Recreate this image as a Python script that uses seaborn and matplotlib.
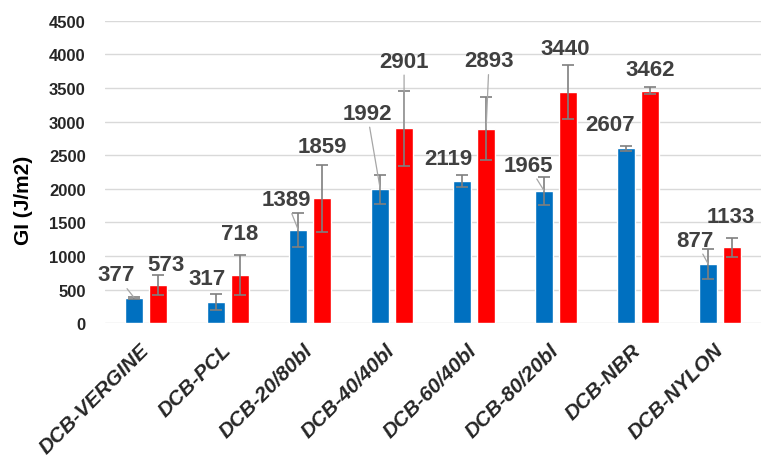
import numpy as np
import matplotlib
matplotlib.use("Agg")
import matplotlib.pyplot as plt
import seaborn as sns
import pandas as pd

# data
samples = ["DCB-VERGINE", "DCB-PCL", "DCB-20/80bl", "DCB-40/40bl",
           "DCB-60/40bl", "DCB-80/20bl", "DCB-NBR", "DCB-NYLON"]
gi_blue = [377, 317, 1389, 1992, 2119, 1965, 2607, 877]
gi_red = [573, 718, 1859, 2901, 2893, 3440, 3462, 1133]
err_blue = [15, 115, 250, 218, 94, 210, 37, 225]
err_red = [150, 300, 500, 556, 470, 405, 57, 140]
series = ["Serie 1", "Serie 2"]

# label placement (pixel offsets from bar top) and leader line flags
off_blue = [(-18, 23), (-9, 23), (-12, 30), (-13, 76), (-14, 22), (-16, 26), (-16, 24), (-13, 24)]
off_red = [(8, 20), (0, 41), (0, 52), (0, 67), (3, 68), (-3, 44), (0, 21), (-1, 31)]
lead_blue = [True, False, True, True, False, True, False, True]
lead_red = [False, False, False, True, True, False, False, False]

df = pd.DataFrame({
    "sample": samples * 2,
    "serie": [series[0]] * len(samples) + [series[1]] * len(samples),
    "GI": gi_blue + gi_red,
})

sns.set_style("white")
plt.rcParams['font.family'] = ['Liberation Sans', 'DejaVu Sans']

fig = plt.figure(figsize=(7.62, 4.56), dpi=100)
ax = fig.add_axes([0.138, 0.289, 0.861, 0.663])

sns.barplot(data=df, x="sample", y="GI", hue="serie", order=samples,
            palette=["#0070C0", "#FF0000"], width=0.58, gap=0.25,
            saturation=1, errorbar=None, legend=False, ax=ax)

ax.set_ylim(0, 4500)
ax.set_xlim(-0.5, len(samples) - 0.5)
ax.set_yticks(np.arange(0, 4501, 500))
ax.yaxis.grid(True, color="#d9d9d9", lw=1)
ax.set_axisbelow(True)
for s in ax.spines.values():
    s.set_visible(False)

errs = [err_blue, err_red]
offs = [off_blue, off_red]
leads = [lead_blue, lead_red]
bar_conts = list(ax.containers)
for k, cont in enumerate(bar_conts):
    xs = [p.get_x() + p.get_width() / 2 for p in cont.patches]
    hs = [p.get_height() for p in cont.patches]
    ax.errorbar(xs, hs, yerr=errs[k], fmt="none", ecolor="#7f7f7f",
                elinewidth=1.2, capsize=4.5, capthick=1.2, zorder=3)
    for i, (x, h) in enumerate(zip(xs, hs)):
        arrow = None
        if leads[k][i]:
            arrow = dict(arrowstyle="-", color="#a6a6a6", lw=0.9,
                         shrinkA=0, shrinkB=0)
        ax.annotate(f"{int(h)}", xy=(x, h), xytext=offs[k][i],
                    textcoords="offset pixels", ha="center", va="center",
                    fontsize=16, fontweight="bold", color="#404040",
                    arrowprops=arrow, zorder=4)

ax.set_xlabel("")
ax.set_ylabel("GI (J/m2)", fontsize=15, fontweight="bold", color="black")
ax.yaxis.set_label_coords(-0.11, 0.41)
ax.tick_params(axis="y", length=0, pad=14, labelsize=12)
ax.tick_params(axis="x", length=0, pad=17)
for t in ax.get_yticklabels():
    t.set_fontweight("bold")
for t in ax.get_xticklabels():
    t.set_fontweight("bold")
    t.set_fontstyle("italic")
    t.set_fontsize(15)
    t.set_rotation(45)
    t.set_ha("right")
    t.set_va("center")
    t.set_rotation_mode("anchor")

fig.savefig("out.png", dpi=100)
